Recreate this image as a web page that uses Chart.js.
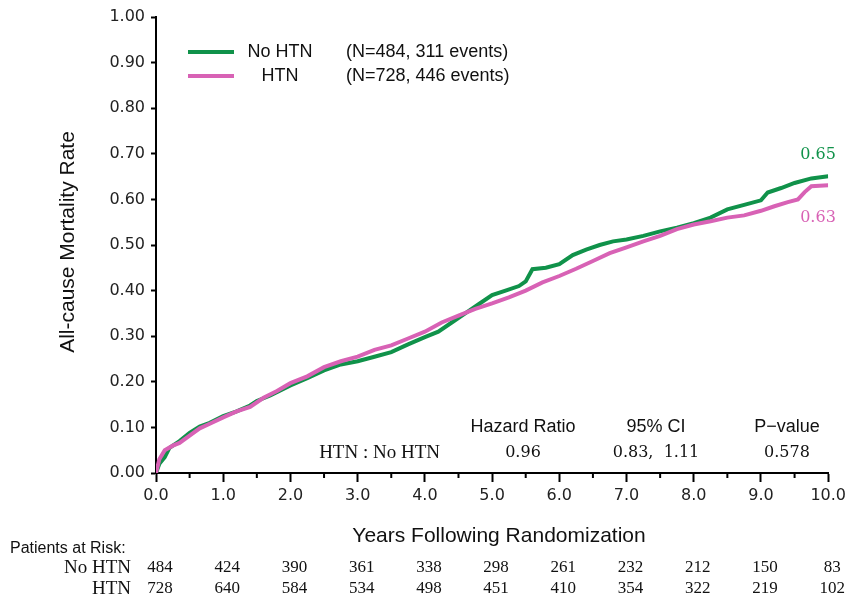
<!DOCTYPE html>
<html>
<head>
<meta charset="utf-8">
<script src="https://cdn.jsdelivr.net/npm/chart.js@4.4.1/dist/chart.umd.min.js"></script>
<style>
  html, body { margin: 0; padding: 0; background: #fff; }
  #wrap { width: 850px; height: 599px; }
</style>
</head>
<body>
<div id="wrap"><canvas id="kmChart" width="850" height="599"></canvas></div>
<script>
// (years, cumulative mortality)
const noHtnYears = [0, 0.05, 0.13, 0.2, 0.35, 0.5, 0.65, 0.8, 1.0, 1.2, 1.4, 1.5, 1.7, 2.0, 2.25, 2.5, 2.75, 3.0, 3.25, 3.5, 3.75, 4.0, 4.2, 4.4, 4.6, 4.8, 5.0, 5.2, 5.4, 5.5, 5.6, 5.8, 6.0, 6.2, 6.4, 6.6, 6.8, 7.0, 7.25, 7.5, 7.75, 8.0, 8.25, 8.5, 8.75, 9.0, 9.1, 9.3, 9.5, 9.75, 10.0];
const noHtnRate  = [0, 0.02, 0.035, 0.055, 0.07, 0.088, 0.102, 0.11, 0.125, 0.135, 0.148, 0.158, 0.17, 0.192, 0.208, 0.225, 0.238, 0.245, 0.255, 0.265, 0.282, 0.298, 0.31, 0.33, 0.35, 0.37, 0.39, 0.40, 0.41, 0.42, 0.447, 0.45, 0.458, 0.478, 0.49, 0.5, 0.508, 0.512, 0.52, 0.53, 0.538, 0.548, 0.56, 0.578, 0.588, 0.598, 0.615, 0.625, 0.636, 0.646, 0.651];

const htnYears = [0, 0.05, 0.13, 0.25, 0.35, 0.5, 0.65, 0.8, 1.0, 1.2, 1.4, 1.6, 1.8, 2.0, 2.25, 2.5, 2.75, 3.0, 3.25, 3.5, 3.75, 4.0, 4.25, 4.5, 4.75, 5.0, 5.25, 5.5, 5.75, 6.0, 6.25, 6.5, 6.75, 7.0, 7.25, 7.5, 7.75, 8.0, 8.25, 8.5, 8.75, 9.0, 9.2, 9.4, 9.55, 9.65, 9.75, 10.0];
const htnRate  = [0, 0.03, 0.05, 0.06, 0.066, 0.082, 0.098, 0.108, 0.122, 0.135, 0.145, 0.165, 0.18, 0.197, 0.212, 0.232, 0.245, 0.255, 0.27, 0.28, 0.295, 0.31, 0.33, 0.345, 0.36, 0.372, 0.385, 0.40, 0.418, 0.432, 0.448, 0.465, 0.482, 0.495, 0.508, 0.52, 0.535, 0.545, 0.552, 0.56, 0.565, 0.575, 0.585, 0.594, 0.60, 0.616, 0.629, 0.631];

const riskYears = [0, 1, 2, 3, 4, 5, 6, 7, 8, 9, 10];
const noHtnRisk = [484, 424, 390, 361, 338, 298, 261, 232, 212, 150, 83];
const htnRisk   = [728, 640, 584, 534, 498, 451, 410, 354, 322, 219, 102];

const groupNames  = ['No HTN', 'HTN'];
const groupCounts = ['(N=484, 311 events)', '(N=728, 446 events)'];
const endLabels   = ['0.65', '0.63'];
const hrHeaders   = ['Hazard Ratio', '95% CI', 'P\u2212value'];
const hrValues    = ['0.96', '0.83,  1.11', '0.578'];

const GREEN = '#10924a';
const PINK = '#d862b5';

function toPoints(xs, ys) {
    return xs.map((x, i) => ({ x: x, y: ys[i] }));
}

const extrasPlugin = {
    id: 'kmExtras',
    afterDraw(chart) {
        const ctx = chart.ctx;
        const xs = chart.scales.x;
        const area = chart.chartArea;
        ctx.save();

        // minor ticks on the x axis
        ctx.strokeStyle = '#000';
        ctx.lineWidth = 2;
        for (let v = 0.5; v < 10; v += 1) {
            const px = xs.getPixelForValue(v);
            ctx.beginPath();
            ctx.moveTo(px, area.bottom);
            ctx.lineTo(px, area.bottom + 5);
            ctx.stroke();
        }

        // legend
        const legendColors = [GREEN, PINK];
        ctx.font = '18px "Liberation Sans", Arial, sans-serif';
        ctx.textBaseline = 'middle';
        for (let i = 0; i < 2; i++) {
            const y = 52 + i * 24;
            ctx.strokeStyle = legendColors[i];
            ctx.lineWidth = 4;
            ctx.beginPath();
            ctx.moveTo(188, y);
            ctx.lineTo(234, y);
            ctx.stroke();
            ctx.fillStyle = '#111';
            ctx.textAlign = 'center';
            ctx.fillText(groupNames[i], 280, y);
            ctx.textAlign = 'left';
            ctx.fillText(groupCounts[i], 346, y);
        }

        // end-of-curve labels
        ctx.font = '16px "DejaVu Serif", serif';
        ctx.textAlign = 'center';
        ctx.fillStyle = GREEN;
        ctx.fillText(endLabels[0], 818, 155);
        ctx.fillStyle = PINK;
        ctx.fillText(endLabels[1], 818, 218);

        // hazard ratio table
        const hrCols = [523, 656, 787];
        ctx.fillStyle = '#111';
        ctx.font = '18px "Liberation Sans", Arial, sans-serif';
        hrHeaders.forEach((h, i) => ctx.fillText(h, hrCols[i], 427));
        ctx.font = '16px "DejaVu Serif", serif';
        hrValues.forEach((h, i) => ctx.fillText(h, hrCols[i], 453));
        ctx.textAlign = 'right';
        ctx.font = '19px "Liberation Serif", serif';
        ctx.fillText('HTN : No HTN', 440, 453);

        // axis titles
        ctx.textAlign = 'center';
        ctx.font = '21px "Liberation Sans", Arial, sans-serif';
        ctx.fillText('Years Following Randomization', 499, 536);
        ctx.save();
        ctx.translate(68, 242);
        ctx.rotate(-Math.PI / 2);
        ctx.font = '21px "Liberation Sans", Arial, sans-serif';
        ctx.fillText('All-cause Mortality Rate', 0, 0);
        ctx.restore();

        // patients at risk
        ctx.textAlign = 'left';
        ctx.font = '16px "Liberation Sans", Arial, sans-serif';
        ctx.fillText('Patients at Risk:', 10, 549);
        ctx.font = '19px "Liberation Serif", serif';
        ctx.textAlign = 'right';
        ctx.fillText('No HTN', 131, 568);
        ctx.fillText('HTN', 131, 589);
        ctx.font = '17px "Liberation Serif", serif';
        ctx.textAlign = 'center';
        riskYears.forEach((yr, i) => {
            const px = xs.getPixelForValue(yr);
            ctx.fillText(String(noHtnRisk[i]), px + 4, 568);
            ctx.fillText(String(htnRisk[i]), px + 4, 589);
        });

        ctx.restore();
    }
};

new Chart(document.getElementById('kmChart'), {
    type: 'line',
    data: {
        datasets: [
            {
                label: 'HTN',
                data: toPoints(htnYears, htnRate),
                borderColor: PINK,
                borderWidth: 4,
                pointRadius: 0,
                tension: 0,
                fill: false
            },
            {
                label: 'No HTN',
                data: toPoints(noHtnYears, noHtnRate),
                borderColor: GREEN,
                borderWidth: 4,
                pointRadius: 0,
                tension: 0,
                fill: false
            }
        ]
    },
    options: {
        responsive: false,
        animation: false,
        events: [],
        layout: { padding: { left: 0, top: 17, right: 16, bottom: 0 } },
        plugins: {
            legend: { display: false },
            tooltip: { enabled: false }
        },
        scales: {
            x: {
                type: 'linear',
                min: 0,
                max: 10,
                afterFit: (scale) => { scale.height = 126; },
                border: { color: '#000', width: 2 },
                grid: { drawOnChartArea: false, tickLength: 9, tickWidth: 2, tickColor: '#000' },
                ticks: {
                    stepSize: 1,
                    padding: 4,
                    color: '#222',
                    font: { family: '"DejaVu Sans", Verdana, sans-serif', size: 16 },
                    callback: (v) => v.toFixed(1)
                }
            },
            y: {
                min: 0,
                max: 1,
                afterFit: (scale) => { scale.width = 156; },
                border: { color: '#000', width: 2 },
                grid: { drawOnChartArea: false, tickLength: 5, tickWidth: 2, tickColor: '#000' },
                ticks: {
                    stepSize: 0.1,
                    padding: 6,
                    color: '#222',
                    font: { family: '"DejaVu Sans", Verdana, sans-serif', size: 16 },
                    callback: (v) => v.toFixed(2)
                }
            }
        }
    },
    plugins: [extrasPlugin]
});
</script>
</body>
</html>
